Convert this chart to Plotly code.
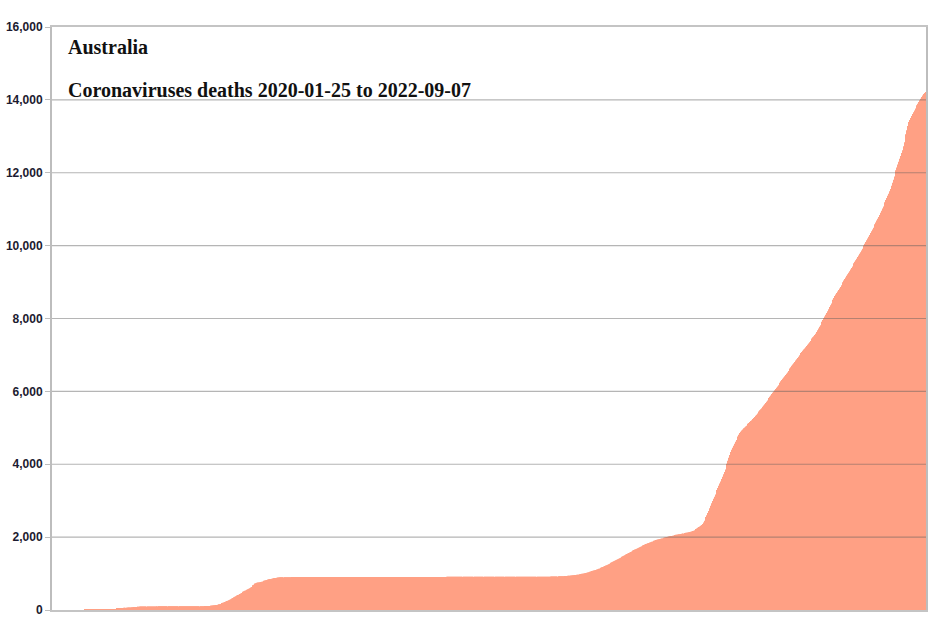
import pandas as pd
import plotly.graph_objects as go

# cumulative coronavirus deaths in Australia, one value per day

deaths_2020 = [
    # Jan 25-31
    0, 0, 0, 0, 0, 0, 0,
    # Feb
    0, 0, 0, 0, 0, 0, 0, 0, 0, 0, 0, 0, 0, 0, 0, 0, 0, 0, 0, 0, 0, 0, 0, 0, 0, 0, 0, 0, 0,
    # Mar
    1, 1, 1, 2, 2, 2, 2, 3, 3, 3, 3, 3, 3, 3, 5, 5, 5, 5, 6, 7, 7, 7, 7, 8, 13, 13, 13, 14, 18, 18, 19,
    # Apr
    21, 22, 24, 30, 35, 36, 40, 45, 50, 53, 56, 59, 61, 63, 63, 65, 67, 69, 70, 71, 74, 75, 79, 80, 83, 85, 88, 89, 91, 93,
    # May
    93, 95, 96, 97, 97, 97, 97, 98, 98, 98, 98, 98, 98, 98, 98, 99, 99, 100, 100, 100, 100, 100, 101, 102, 102, 102, 103, 103, 103, 103, 103,
    # Jun
    103, 103, 103, 103, 103, 103, 103, 103, 103, 103, 103, 103, 103, 103, 103, 103, 103, 103, 103, 103, 104, 104, 104, 104, 104, 104, 104, 104, 104, 104,
    # Jul
    104, 104, 104, 104, 105, 106, 106, 106, 106, 108, 108, 108, 111, 111, 113, 116, 118, 122, 123, 128, 128, 138, 139, 145, 155, 161, 167, 176, 189, 201, 208,
    # Aug
    221, 232, 245, 257, 266, 278, 295, 302, 314, 331, 350, 363, 375, 396, 409, 421, 438, 450, 466, 481, 502, 516, 525, 534, 554, 569, 584, 600, 616, 634, 663,
    # Sep
    678, 693, 725, 737, 748, 753, 757, 762, 768, 773, 780, 790, 800, 810, 816, 825, 835, 845, 850, 854, 860, 866, 870, 873, 875, 880, 885, 890, 894, 897,
    # Oct
    897, 898, 898, 899, 899, 900, 900, 901, 901, 901, 902, 902, 903, 903, 904, 904, 904, 905, 905, 905, 905, 905, 905, 906, 906, 906, 906, 907, 907, 907, 907,
    # Nov
    907, 907, 907, 907, 907, 907, 907, 907, 907, 907, 907, 907, 907, 907, 907, 907, 907, 907, 907, 907, 907, 907, 907, 907, 907, 907, 907, 907, 907, 907,
    # Dec
    908, 908, 908, 908, 908, 908, 908, 908, 908, 908, 908, 908, 908, 908, 908, 908, 908, 908, 908, 908, 908, 908, 908, 908, 908, 908, 908, 909, 909, 909, 909,
]

deaths_2021 = [
    # Jan
    909, 909, 909, 909, 909, 909, 909, 909, 909, 909, 909, 909, 909, 909, 909, 909, 909, 909, 909, 909, 909, 909, 909, 909, 909, 909, 909, 909, 909, 909, 909,
    # Feb
    909, 909, 909, 909, 909, 909, 909, 909, 909, 909, 909, 909, 909, 909, 909, 909, 909, 909, 909, 909, 909, 909, 909, 909, 909, 909, 909, 909,
    # Mar
    909, 909, 909, 909, 909, 909, 909, 909, 909, 909, 909, 909, 909, 909, 909, 909, 909, 909, 909, 909, 909, 909, 909, 909, 909, 909, 909, 909, 909, 909, 909,
    # Apr
    910, 910, 910, 910, 910, 910, 910, 910, 910, 910, 910, 910, 910, 910, 910, 910, 910, 910, 910, 910, 910, 910, 910, 910, 910, 910, 910, 910, 910, 910,
    # May
    910, 910, 910, 910, 910, 910, 910, 910, 910, 910, 910, 910, 910, 910, 910, 910, 910, 910, 910, 910, 910, 910, 910, 910, 910, 910, 910, 910, 910, 910, 910,
    # Jun
    910, 910, 910, 910, 910, 910, 910, 910, 910, 910, 910, 910, 910, 910, 910, 910, 910, 910, 910, 910, 910, 910, 910, 910, 910, 910, 910, 910, 910, 910,
    # Jul
    910, 910, 910, 910, 910, 910, 910, 910, 910, 910, 911, 911, 911, 912, 912, 912, 913, 913, 914, 914, 915, 915, 915, 916, 916, 917, 917, 918, 919, 920, 921,
    # Aug
    922, 923, 924, 925, 926, 927, 929, 931, 933, 935, 937, 939, 941, 943, 946, 949, 952, 955, 958, 961, 965, 969, 973, 977, 982, 987, 992, 998, 1004, 1010, 1016,
    # Sep
    1023, 1030, 1037, 1044, 1051, 1059, 1067, 1075, 1083, 1092, 1101, 1110, 1119, 1129, 1139, 1150, 1161, 1172, 1183, 1195, 1207, 1219, 1231, 1243, 1256, 1269, 1282, 1296, 1310, 1324,
    # Oct
    1338, 1352, 1366, 1380, 1394, 1408, 1422, 1436, 1450, 1464, 1478, 1492, 1506, 1520, 1534, 1548, 1562, 1576, 1590, 1604, 1618, 1631, 1644, 1657, 1670, 1683, 1696, 1709, 1722, 1735, 1748,
    # Nov
    1760, 1772, 1784, 1796, 1808, 1819, 1830, 1841, 1852, 1862, 1872, 1882, 1892, 1901, 1910, 1919, 1927, 1935, 1943, 1950, 1957, 1964, 1971, 1978, 1985, 1992, 1998, 2004, 2010, 2016,
    # Dec
    2022, 2028, 2034, 2040, 2046, 2052, 2057, 2062, 2067, 2072, 2077, 2082, 2087, 2092, 2097, 2102, 2107, 2112, 2117, 2122, 2127, 2133, 2140, 2148, 2157, 2167, 2178, 2190, 2204, 2220, 2238,
]

deaths_2022 = [
    # Jan
    2258, 2275, 2292, 2310, 2330, 2360, 2400, 2450, 2500, 2550, 2600, 2660, 2720, 2790, 2860, 2930, 2990, 3050, 3110, 3170, 3230, 3290, 3350, 3410, 3470, 3530, 3595, 3660, 3725, 3790, 3855,
    # Feb
    3935, 4015, 4095, 4175, 4255, 4335, 4395, 4450, 4505, 4560, 4615, 4665, 4715, 4765, 4810, 4855, 4895, 4925, 4955, 4985, 5010, 5035, 5060, 5085, 5110, 5135, 5160, 5185,
    # Mar
    5210, 5240, 5270, 5300, 5330, 5360, 5390, 5420, 5450, 5480, 5510, 5540, 5575, 5610, 5645, 5680, 5715, 5750, 5785, 5820, 5855, 5890, 5925, 5960, 5995, 6030, 6065, 6100, 6135, 6170, 6205,
    # Apr
    6240, 6275, 6310, 6345, 6380, 6415, 6450, 6485, 6521, 6557, 6593, 6629, 6665, 6701, 6737, 6773, 6809, 6845, 6881, 6917, 6953, 6988, 7020, 7052, 7084, 7116, 7148, 7180, 7212, 7244,
    # May
    7278, 7312, 7346, 7380, 7414, 7448, 7482, 7516, 7550, 7583, 7630, 7677, 7724, 7771, 7818, 7865, 7912, 7959, 8006, 8053, 8100, 8150, 8200, 8255, 8315, 8365, 8415, 8465, 8515, 8565, 8615,
    # Jun
    8657, 8699, 8741, 8783, 8825, 8867, 8910, 8955, 8998, 9041, 9084, 9127, 9170, 9213, 9256, 9299, 9342, 9385, 9428, 9471, 9514, 9555, 9596, 9641, 9686, 9731, 9776, 9821, 9866, 9911,
    # Jul
    9957, 10004, 10051, 10099, 10148, 10197, 10246, 10295, 10344, 10393, 10442, 10491, 10540, 10589, 10638, 10687, 10736, 10785, 10843, 10901, 10959, 11017, 11075, 11133, 11191, 11249, 11307, 11366, 11425, 11490, 11555,
    # Aug
    11640, 11725, 11810, 11895, 11980, 12066, 12145, 12224, 12303, 12382, 12461, 12540, 12615, 12725, 12835, 12945, 13055, 13165, 13280, 13392, 13450, 13505, 13560, 13610, 13660, 13710, 13760, 13804, 13850, 13896, 13942,
    # Sep 1-7
    13988, 14034, 14080, 14122, 14160, 14190, 14216,
]

y_ticks = [0, 2000, 4000, 6000, 8000, 10000, 12000, 14000, 16000]
y_labels = ["0", "2,000", "4,000", "6,000", "8,000", "10,000", "12,000", "14,000", "16,000"]

deaths = deaths_2020 + deaths_2021 + deaths_2022
days = pd.date_range("2020-01-25", periods=len(deaths), freq="D")

fig = go.Figure()
fig.add_trace(
    go.Bar(
        x=days,
        y=deaths,
        marker=dict(color="#ffa084", line=dict(width=0)),
        hoverinfo="x+y",
    )
)

# grid lines sit on top of the bars in the original
for t in y_ticks[1:-1]:
    fig.add_hline(y=t, line=dict(color="rgba(90,90,90,0.45)", width=1.2), layer="above")

title_font = dict(family="Liberation Serif", size=20, color="#111111")
fig.update_layout(
    width=945,
    height=631,
    margin=dict(l=52, r=19, t=27, b=21, autoexpand=False),
    paper_bgcolor="white",
    plot_bgcolor="white",
    bargap=0.15,
    showlegend=False,
    annotations=[
        dict(text="<b>Australia</b>", xref="paper", yref="paper", x=0.016, y=0.966,
             xanchor="left", yanchor="middle", showarrow=False, font=title_font),
        dict(text="<b>Coronaviruses deaths 2020-01-25 to 2022-09-07</b>", xref="paper", yref="paper",
             x=0.016, y=0.892, xanchor="left", yanchor="middle", showarrow=False, font=title_font),
    ],
)
fig.update_xaxes(
    showticklabels=False,
    showgrid=False,
    showline=True,
    linecolor="#c4c4c4",
    linewidth=1.5,
    mirror=True,
    ticks="",
)
fig.update_yaxes(
    range=[0, 16000],
    tickvals=y_ticks,
    ticktext=y_labels,
    showgrid=False,
    showline=True,
    linecolor="#bdbdbd",
    linewidth=2,
    mirror=True,
    ticks="outside",
    ticklen=5,
    tickcolor="#bdbdbd",
    tickfont=dict(family="Liberation Sans", size=12, color="#1b1b30", weight="bold"),
)

fig.write_html(
    "out.html",
    config={"displayModeBar": False},
    post_script="document.body.style.margin='0';",
)
